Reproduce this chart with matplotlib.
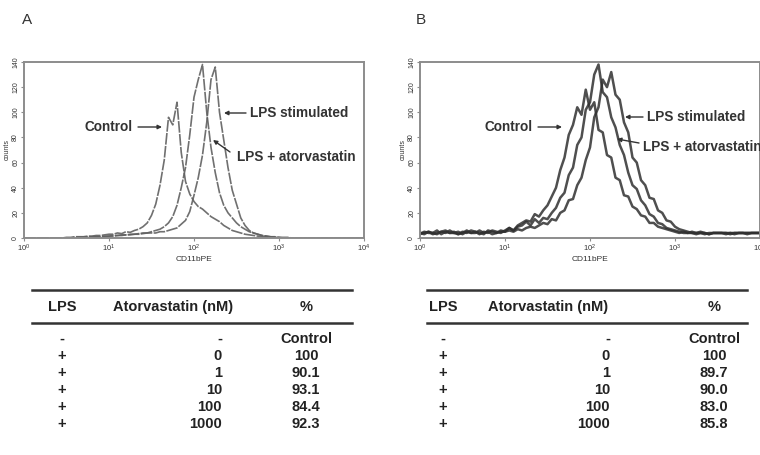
import matplotlib
matplotlib.use("Agg")
import matplotlib.pyplot as plt
from matplotlib.lines import Line2D
from matplotlib.patches import FancyArrowPatch

plt.rcParams['font.family'] = ['Liberation Sans', 'DejaVu Sans']

# log10 of CD11bPE fluorescence channel
log_fl = [0.00, 0.05, 0.10, 0.15, 0.20, 0.25, 0.30, 0.35, 0.40, 0.45,
          0.50, 0.55, 0.60, 0.65, 0.70, 0.75, 0.80, 0.85, 0.90, 0.95,
          1.00, 1.05, 1.10, 1.15, 1.20, 1.25, 1.30, 1.35, 1.40, 1.45,
          1.50, 1.55, 1.60, 1.65, 1.70, 1.75, 1.80, 1.85, 1.90, 1.95,
          2.00, 2.05, 2.10, 2.15, 2.20, 2.25, 2.30, 2.35, 2.40, 2.45,
          2.50, 2.55, 2.60, 2.65, 2.70, 2.75, 2.80, 2.85, 2.90, 2.95,
          3.00, 3.05, 3.10, 3.15, 3.20, 3.25, 3.30, 3.35, 3.40, 3.45,
          3.50, 3.55, 3.60, 3.65, 3.70, 3.75, 3.80, 3.85, 3.90, 3.95,
          4.00]

# panel A counts (one value per channel above)
a_control = ([0] * 10
             + [0.5, 0.5, 1, 1, 1, 1.5, 1.5, 2, 2, 2.5, 3]
             + [3, 4, 3.5, 5, 4.5, 6, 7, 9, 12, 18]
             + [27, 42, 62, 96, 90, 108, 68, 45, 35, 29]
             + [25, 23, 20, 17, 15, 13, 10, 8, 6, 5]
             + [4, 3, 2.5, 2, 1.5, 1, 1, 0.5, 0.5, 0]
             + [0] * 20)
a_lps_atorva = ([0] * 10
                + [0, 0, 0.5, 0.5, 0.5, 1, 1, 1, 1, 1.5, 1.5]
                + [2, 2, 2.5, 2.5, 3, 3, 3.5, 4, 4, 5]
                + [6, 7, 9, 12, 17, 26, 40, 56, 82, 112]
                + [126, 138, 100, 72, 52, 36, 26, 20, 16, 12]
                + [9, 7, 5, 4, 3, 2, 1.5, 1, 0.5, 0.5]
                + [0] * 20)
a_lps = ([0] * 10
         + [0, 0, 0, 0.5, 0.5, 0.5, 1, 1, 1, 1, 1.5]
         + [1.5, 2, 2, 2.5, 2.5, 3, 3, 3.5, 4, 4]
         + [4, 5, 5, 6, 7, 8, 11, 14, 21, 34]
         + [48, 66, 92, 126, 136, 100, 78, 56, 38, 27]
         + [16, 10, 6, 4, 3, 2, 1.5, 1, 1, 0.5]
         + [0.5, 0.5] + [0] * 18)

# panel B counts
b_control = ([4, 3, 5, 4, 3, 5, 4, 6, 4, 3, 5, 4, 6, 5, 3, 5, 4, 6, 5, 4]
             + [6, 8, 6, 10, 12, 14, 13, 19, 17, 22]
             + [26, 33, 40, 54, 64, 82, 90, 104, 98, 118]
             + [102, 108, 86, 84, 66, 64, 48, 46, 34, 33]
             + [25, 23, 18, 17, 12, 12, 9, 8, 7, 6]
             + [5, 4, 5, 4, 4, 3, 4, 4, 3, 4, 4, 4, 3, 4, 4, 4, 4, 3, 4, 4, 4])
b_lps_atorva = ([4, 4, 5, 3, 4, 5, 6, 4, 4, 5, 3, 5, 4, 4, 6, 4, 5, 3, 4, 5]
                + [5, 8, 6, 9, 10, 13, 10, 15, 12, 16]
                + [15, 20, 24, 32, 36, 50, 56, 74, 80, 102]
                + [108, 130, 138, 116, 112, 96, 88, 74, 66, 52]
                + [42, 39, 30, 26, 19, 17, 12, 11, 8, 7]
                + [6, 5, 4, 4, 5, 4, 4, 3, 4, 4, 4, 4, 4, 4, 3, 4, 4, 4, 4, 4, 4])
b_lps = ([3, 5, 4, 4, 6, 3, 5, 4, 5, 3, 4, 6, 4, 5, 4, 3, 6, 5, 4, 6]
         + [5, 6, 5, 7, 6, 8, 9, 8, 10, 12]
         + [11, 15, 14, 20, 22, 30, 31, 42, 48, 62]
         + [72, 96, 104, 126, 120, 132, 114, 110, 92, 84]
         + [64, 60, 46, 42, 32, 31, 22, 20, 14, 13]
         + [9, 7, 6, 5, 4, 4, 5, 4, 3, 4, 4, 4, 4, 3, 4, 4, 4, 4, 4, 4, 4])

# tables
lps_col = ['-', '+', '+', '+', '+', '+']
atorva_col = ['-', '0', '1', '10', '100', '1000']
pct_a = ['Control', '100', '90.1', '93.1', '84.4', '92.3']
pct_b = ['Control', '100', '89.7', '90.0', '83.0', '85.8']

W, H = 760, 455
fig = plt.figure(figsize=(W / 100, H / 100), dpi=100)


def fp(x, y):
    # pixel position (top-left origin) -> figure fraction
    return (x / W, 1 - y / H)


def setup(ax):
    ax.set_xscale('log')
    ax.set_xlim(1, 1e4)
    ax.set_ylim(0, 140)
    ax.set_yticks(range(0, 141, 20))
    ax.set_xticks([1, 10, 100, 1000, 10000])
    ax.minorticks_off()
    for s in ax.spines.values():
        s.set_color('#8c8c8c')
        s.set_linewidth(1.4)
    ax.tick_params(axis='both', colors='#8c8c8c', length=2, width=0.8,
                   labelcolor='#333333', pad=1.5)
    ax.tick_params(axis='x', labelsize=5.5)
    ax.tick_params(axis='y', labelsize=5)
    for t in ax.get_yticklabels():
        t.set_rotation(90)
        t.set_va('center')
    ax.set_xlabel('CD11bPE', fontsize=6, color='#333333', labelpad=1)
    ax.set_ylabel('counts', fontsize=5, color='#333333', labelpad=1)


fl = [10 ** v for v in log_fl]

ax_a = fig.add_axes([24 / W, 1 - 238 / H, 340 / W, 176 / H])
setup(ax_a)
for ys in (a_control, a_lps_atorva, a_lps):
    ax_a.plot(fl, ys, color='#606060', lw=1.2, alpha=0.9, dashes=(7, 0.8))

ax_b = fig.add_axes([420 / W, 1 - 238 / H, 340 / W, 176 / H])
setup(ax_b)
for ys in (b_control, b_lps_atorva, b_lps):
    ax_b.plot(fl, ys, color='#303030', lw=1.8, alpha=0.85)

lbl = dict(fontsize=9.8, fontweight='bold', color='#333333')
arr = dict(arrowstyle='-|>', lw=1.0, color='#333333', mutation_scale=6,
           shrinkA=0, shrinkB=0)


def note(text, tx, ty, ha, a0, a1):
    fig.text(*fp(tx, ty), text, ha=ha, va='center', **lbl)
    fig.add_artist(FancyArrowPatch(fp(*a0), fp(*a1),
                                   transform=fig.transFigure, **arr))


note('Control', 133, 127, 'right', (138, 127), (162, 127))
note('LPS stimulated', 250, 113, 'left', (246, 113), (224, 113))
note('LPS + atorvastatin', 237, 157, 'left', (230, 152), (213, 140))

note('Control', 533, 127, 'right', (538, 127), (562, 127))
note('LPS stimulated', 647, 117, 'left', (643, 117), (625, 117))
note('LPS + atorvastatin', 643, 147, 'left', (639, 143), (617, 139))

fig.text(*fp(27, 20), 'A', fontsize=11, color='#333333', ha='center', va='center')
fig.text(*fp(421, 20), 'B', fontsize=11, color='#333333', ha='center', va='center')

tkw = dict(fontsize=10.5, fontweight='bold', color='#222222', va='center')
row_y = [339, 356, 373, 390, 407, 424]


def table(x0, x1, c1, ch, c2, c3, pct):
    for yy in (290, 323):
        fig.add_artist(Line2D([x0 / W, x1 / W], [1 - yy / H] * 2,
                              color='#333333', lw=1.8))
    fig.text(*fp(c1, 307), 'LPS', ha='center', **tkw)
    fig.text(*fp(ch, 307), 'Atorvastatin (nM)', ha='center', **tkw)
    fig.text(*fp(c3, 307), '%', ha='center', **tkw)
    for yy, a, b, p in zip(row_y, lps_col, atorva_col, pct):
        fig.text(*fp(c1, yy), a, ha='center', **tkw)
        fig.text(*fp(c2, yy), b, ha='right', **tkw)
        fig.text(*fp(c3, yy), p, ha='center', **tkw)


table(32, 352, 62, 173, 222, 306, pct_a)
table(427, 747, 443, 548, 610, 714, pct_b)

fig.savefig('out.png', dpi=100)
